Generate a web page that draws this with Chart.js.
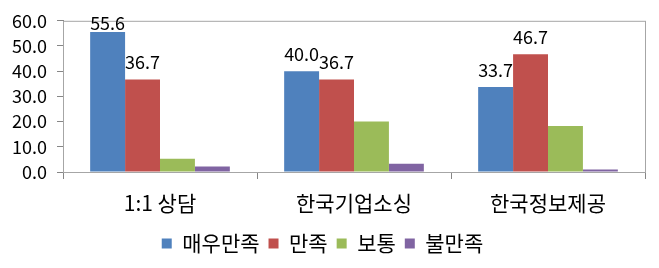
<!DOCTYPE html>
<html>
<head>
<meta charset="utf-8">
<script src="https://cdn.jsdelivr.net/npm/chart.js@4/dist/chart.umd.min.js"></script>
<style>
  html, body { margin: 0; padding: 0; background: #ffffff; }
  #wrap { width: 659px; height: 268px; }
</style>
</head>
<body>
<div id="wrap"><canvas id="myChart" width="659" height="268"></canvas></div>
<script>
const categories = ['1:1 상담', '한국기업소싱', '한국정보제공'];
const seriesNames = ['매우만족', '만족', '보통', '불만족'];
const veryGood = [55.6, 40.0, 33.7];
const good = [36.7, 36.7, 46.7];
const normal = [5.3, 20.0, 18.3];
const bad = [2.2, 3.3, 1.0];
const yTicks = [0, 10, 20, 30, 40, 50, 60];

const colors = ['#4F81BD', '#C0504D', '#9BBB59', '#8064A2'];
const fontFamily = '"Noto Sans CJK KR", "Noto Sans", sans-serif';

// 플롯 영역 테두리
const plotBorder = {
    id: 'plotBorder',
    beforeDatasetsDraw(chart) {
        const { ctx, chartArea } = chart;
        ctx.save();
        ctx.strokeStyle = '#A6A6A6';
        ctx.lineWidth = 1;
        ctx.strokeRect(chartArea.left + 0.5, chartArea.top + 0.5,
            chartArea.right - chartArea.left, chartArea.bottom - chartArea.top);
        ctx.restore();
    }
};

// 값 레이블 (매우만족, 만족만)
const valueLabels = {
    id: 'valueLabels',
    afterDatasetsDraw(chart) {
        const { ctx } = chart;
        ctx.save();
        ctx.font = '18px ' + fontFamily;
        ctx.fillStyle = '#000000';
        ctx.textAlign = 'center';
        ctx.textBaseline = 'middle';
        [0, 1].forEach(di => {
            const meta = chart.getDatasetMeta(di);
            meta.data.forEach((bar, i) => {
                const v = chart.data.datasets[di].data[i];
                const y = Math.max(bar.y - 17, chart.chartArea.top + 2);
                ctx.fillText(v.toFixed(1), bar.x, y);
            });
        });
        ctx.restore();
    }
};

const datasets = [veryGood, good, normal, bad].map((data, i) => ({
    label: seriesNames[i],
    data: data,
    backgroundColor: colors[i],
    borderWidth: 0,
    categoryPercentage: 0.72,
    barPercentage: 1.0
}));

new Chart(document.getElementById('myChart').getContext('2d'), {
    type: 'bar',
    data: { labels: categories, datasets: datasets },
    options: {
        responsive: false,
        animation: false,
        layout: { padding: { top: 19, right: 14, bottom: 4, left: 0 } },
        plugins: {
            legend: {
                position: 'bottom',
                labels: {
                    boxWidth: 10,
                    boxHeight: 10,
                    padding: 9,
                    color: '#000000',
                    font: { size: 21, family: fontFamily }
                }
            },
            tooltip: { enabled: false }
        },
        scales: {
            x: {
                grid: {
                    drawOnChartArea: false,
                    drawTicks: true,
                    tickLength: 7,
                    color: '#868686',
                    offset: true
                },
                border: { display: true, color: '#868686' },
                ticks: {
                    color: '#000000',
                    padding: 11,
                    font: { size: 21, family: fontFamily }
                },
                afterFit(scale) { scale.height = 52; }
            },
            y: {
                min: 0,
                max: 60,
                afterBuildTicks(scale) { scale.ticks = yTicks.map(v => ({ value: v })); },
                grid: {
                    drawOnChartArea: false,
                    drawTicks: true,
                    tickLength: 6,
                    color: '#868686'
                },
                border: { display: true, color: '#868686' },
                ticks: {
                    color: '#000000',
                    padding: 10,
                    font: { size: 18, family: fontFamily },
                    callback: v => v.toFixed(1)
                },
                afterFit(scale) { scale.width = 63; }
            }
        }
    },
    plugins: [plotBorder, valueLabels]
});
</script>
</body>
</html>
